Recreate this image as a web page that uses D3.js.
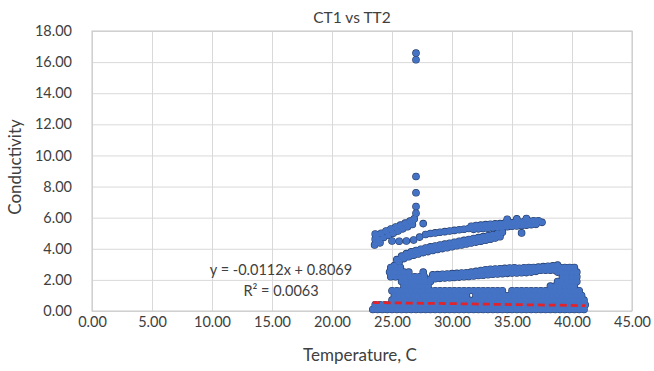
<!DOCTYPE html>
<html>
<head>
<meta charset="utf-8">
<script src="https://cdn.jsdelivr.net/npm/d3@7/dist/d3.min.js"></script>
<style>
  body { margin: 0; background: #fff; }
  text { font-family: Lato, "Open Sans", sans-serif; fill: #404040; }
</style>
</head>
<body>
<svg id="chart" width="654" height="371"></svg>
<script>
// axis ticks
const xTicks = [0, 5, 10, 15, 20, 25, 30, 35, 40, 45];
const yTicks = [0, 2, 4, 6, 8, 10, 12, 14, 16, 18];

// linear trendline from the chart
const trendSlope = -0.0112;
const trendIntercept = 0.8069;
const trendRange = [23.4, 41.1];

// [temperature, conductivity] readings, grouped by the visible clusters
const outliers = [[27.0, 16.58], [27.0, 16.15], [27.0, 8.65], [27.0, 7.6], [27.0, 6.72], [27.0, 6.28], [27.6, 5.62], [35.8, 5.02]];

const upperLeftBand = [
  [23.55, 4.25], [23.6, 4.62], [24.0, 4.38], [23.6, 4.95],
  [23.75, 4.4], [23.9, 4.6], [24.3, 4.73], [24.7, 4.87], [25.1, 5.0], [25.5, 5.14], [25.9, 5.28], [26.3, 5.42], [26.7, 5.56],
  [23.7, 4.88], [24.1, 5.0], [24.5, 5.14], [24.9, 5.27], [25.3, 5.4], [25.7, 5.52], [26.1, 5.65], [26.5, 5.78], [26.85, 5.92]
];

const dottedRow = [[25.0, 4.5], [25.6, 4.48], [26.2, 4.5], [26.8, 4.56], [27.3, 4.75]];

const upperBand = [
  [27.8, 4.92], [28.2, 4.98], [28.6, 5.02], [29.0, 5.06], [29.4, 5.1], [29.8, 5.14], [30.2, 5.18], [30.6, 5.22], [31.0, 5.26], [31.4, 5.3],
  [31.8, 5.25], [32.2, 5.28], [32.6, 5.3], [33.0, 5.32], [33.4, 5.35], [33.8, 5.37], [34.2, 5.4], [34.6, 5.42], [35.0, 5.45], [35.4, 5.47], [35.8, 5.5], [36.2, 5.52], [36.6, 5.55], [37.0, 5.57],
  [31.6, 5.45], [32.0, 5.5], [32.4, 5.52], [32.8, 5.55], [33.2, 5.58], [33.6, 5.6], [34.0, 5.62], [34.4, 5.65], [34.8, 5.68], [35.2, 5.7], [35.6, 5.72], [36.0, 5.75], [36.4, 5.78], [36.8, 5.8], [37.2, 5.8], [37.5, 5.7],
  [34.6, 5.9], [35.4, 5.92], [36.2, 5.95]
];

const diagonalBand = [
  [25.2, 2.92], [25.6, 3.17], [26.0, 3.37], [26.4, 3.49], [26.8, 3.59], [27.2, 3.67], [27.6, 3.75], [28.0, 3.82], [28.4, 3.89], [28.8, 3.95], [29.2, 4.01], [29.6, 4.07],
  [30.0, 4.13], [30.4, 4.19], [30.8, 4.25], [31.2, 4.31], [31.6, 4.37], [32.0, 4.43], [32.4, 4.49], [32.8, 4.55], [33.2, 4.61], [33.6, 4.69], [34.0, 4.77],
  [25.4, 3.3], [25.8, 3.53], [26.2, 3.69], [26.6, 3.8], [27.0, 3.89], [27.4, 3.97], [27.8, 4.05], [28.2, 4.12], [28.6, 4.18], [29.0, 4.24], [29.4, 4.3], [29.8, 4.36],
  [30.2, 4.42], [30.6, 4.48], [31.0, 4.54], [31.4, 4.6], [31.8, 4.66], [32.2, 4.72], [32.6, 4.78], [33.0, 4.84], [33.4, 4.91], [33.8, 4.99], [34.2, 5.07]
];

const middleBand = [
  [28.2, 2.05], [28.6, 2.07], [29.0, 2.1], [29.4, 2.12], [29.8, 2.14], [30.2, 2.16], [30.6, 2.18], [31.0, 2.2], [31.4, 2.22], [31.8, 2.25], [32.2, 2.28], [32.6, 2.3], [33.0, 2.33],
  [33.4, 2.36], [33.8, 2.38], [34.2, 2.4], [34.6, 2.42], [35.0, 2.44], [35.4, 2.45], [35.8, 2.46], [36.2, 2.47], [36.6, 2.5], [37.0, 2.55], [37.4, 2.62], [37.8, 2.62], [38.2, 2.62], [38.6, 2.62],
  [28.4, 2.32], [28.8, 2.34], [29.2, 2.36], [29.6, 2.38], [30.0, 2.4], [30.4, 2.42], [30.8, 2.44], [31.2, 2.46], [31.6, 2.5], [32.0, 2.55], [32.4, 2.6], [32.8, 2.65], [33.2, 2.68],
  [33.6, 2.7], [34.0, 2.72], [34.4, 2.74], [34.8, 2.76], [35.2, 2.78], [35.6, 2.75], [36.0, 2.78], [36.4, 2.8], [36.8, 2.8], [37.2, 2.82], [37.6, 2.85], [38.0, 2.88], [38.4, 2.9], [38.8, 2.95]
];

// dense lower mass: one conductivity level per row, temperatures along it
const baseRowY = [0.1, 0.4, 0.7, 1.0, 1.3, 1.6, 1.9, 2.2, 2.5, 2.8];
const baseRowX = [
  [23.4, 23.8, 24.2, 24.6, 25.0, 25.4, 25.8, 26.2, 26.6, 27.0, 27.4, 27.8, 28.2, 28.6, 29.0, 29.4, 29.8, 30.2, 30.6, 31.0, 31.4, 31.8, 32.2, 32.6, 33.0, 33.4, 33.8, 34.2, 34.6, 35.0, 35.4, 35.8, 36.2, 36.6, 37.0, 37.4, 37.8, 38.2, 38.6, 39.0, 39.4, 39.8, 40.2, 40.6, 41.0],
  [23.6, 24.0, 24.4, 24.8, 25.2, 25.6, 26.0, 26.4, 26.8, 27.2, 27.6, 28.0, 28.4, 28.8, 29.2, 29.6, 30.0, 30.4, 30.8, 31.2, 31.6, 32.0, 32.4, 32.8, 33.2, 33.6, 34.0, 34.4, 34.8, 35.2, 35.6, 36.0, 36.4, 36.8, 37.2, 37.6, 38.0, 38.4, 38.8, 39.2, 39.6, 40.0, 40.4, 40.8, 41.1],
  [25.0, 25.4, 25.8, 26.2, 26.6, 27.0, 27.4, 27.8, 28.2, 28.6, 29.0, 29.4, 29.8, 30.2, 30.6, 31.0, 31.4, 31.8, 32.2, 32.6, 33.0, 33.4, 33.8, 34.2, 34.6, 35.0, 35.4, 35.8, 36.2, 36.6, 37.0, 37.4, 37.8, 38.2, 38.6, 39.0, 39.4, 39.8, 40.2, 40.6, 41.0],
  [25.2, 25.6, 26.0, 26.4, 26.8, 27.2, 27.6, 28.0, 28.4, 28.8, 29.2, 29.6, 30.0, 30.4, 30.8, 31.2, 32.0, 32.4, 32.8, 33.2, 33.6, 34.0, 34.4, 34.8, 35.2, 35.6, 36.0, 36.4, 36.8, 37.2, 37.6, 38.0, 38.4, 38.8, 39.2, 39.6, 40.0, 40.4, 40.8],
  [25.0, 25.4, 25.8, 26.2, 26.6, 27.0, 27.4, 27.8, 28.2, 28.6, 29.0, 29.4, 29.8, 30.2, 30.6, 31.0, 31.4, 31.8, 32.2, 32.6, 33.0, 33.4, 33.8, 34.2, 35.0, 35.4, 35.8, 36.2, 36.6, 37.0, 37.4, 37.8, 38.2, 38.6, 39.0, 39.4, 39.8, 40.2, 40.6],
  [26.0, 26.4, 26.8, 27.2, 27.6, 28.0, 38.2, 38.6, 39.0, 39.4, 39.8, 40.2],
  [25.8, 26.2, 26.6, 27.0, 27.4, 27.8, 28.2, 38.8, 39.2, 39.6, 40.0, 40.4],
  [24.9, 25.3, 25.7, 26.1, 26.5, 26.9, 27.3, 27.7, 39.2, 39.6, 40.0, 40.4],
  [24.8, 25.2, 25.6, 26.0, 26.4, 27.6, 38.8, 39.2, 39.6, 40.0, 40.4],
  [24.9, 25.3, 25.7, 39.0, 39.4, 39.8, 40.2]
];

const W = 654, H = 371;
const plot = { left: 92, right: 632, top: 31, bottom: 311 };

const svg = d3.select("#chart");
svg.append("rect").attr("width", W).attr("height", H).attr("fill", "#fff");

const x = d3.scaleLinear().domain([0, 45]).range([plot.left, plot.right]);
const y = d3.scaleLinear().domain([0, 18]).range([plot.bottom, plot.top]);

// gridlines
svg.append("g")
  .attr("transform", `translate(0,${plot.bottom})`)
  .call(d3.axisBottom(x).tickValues(xTicks).tickSize(-(plot.bottom - plot.top)).tickFormat(""))
  .call(g => g.select(".domain").remove())
  .call(g => g.selectAll("line").attr("stroke", "#d9d9d9"));
svg.append("g")
  .attr("transform", `translate(${plot.left},0)`)
  .call(d3.axisLeft(y).tickValues(yTicks).tickSize(-(plot.right - plot.left)).tickFormat(""))
  .call(g => g.select(".domain").remove())
  .call(g => g.selectAll("line").attr("stroke", "#d9d9d9"));

svg.append("rect")
  .attr("x", plot.left).attr("y", plot.top)
  .attr("width", plot.right - plot.left).attr("height", plot.bottom - plot.top)
  .attr("fill", "none").attr("stroke", "#c8c8c8");

// tick labels
svg.append("g")
  .attr("transform", `translate(0,${plot.bottom})`)
  .call(d3.axisBottom(x).tickValues(xTicks).tickSize(0).tickPadding(6).tickFormat(d3.format(".2f")))
  .call(g => g.select(".domain").remove())
  .call(g => g.selectAll("text").attr("font-size", 14.5).attr("fill", "#404040").attr("font-family", "Lato, sans-serif"));
svg.append("g")
  .attr("transform", `translate(${plot.left},0)`)
  .call(d3.axisLeft(y).tickValues(yTicks).tickSize(0).tickPadding(20).tickFormat(d3.format(".2f")))
  .call(g => g.select(".domain").remove())
  .call(g => g.selectAll("text").attr("font-size", 14.5).attr("fill", "#404040").attr("font-family", "Lato, sans-serif"));

// titles
svg.append("text").attr("x", 352).attr("y", 23).attr("text-anchor", "middle")
  .attr("font-size", 15.5).text("CT1 vs TT2");
svg.append("text").attr("x", 360).attr("y", 361).attr("text-anchor", "middle")
  .attr("font-size", 17).text("Temperature, C");
svg.append("text").attr("transform", "translate(21,167) rotate(-90)").attr("text-anchor", "middle")
  .attr("font-size", 17).text("Conductivity");

// points: dark rim layer, then a blue layer that hides rims inside dense clusters
const baseRows = baseRowY.flatMap((cv, i) => baseRowX[i].map(t => [t, cv]));
const points = [].concat(baseRows, middleBand, diagonalBand, upperBand, dottedRow, upperLeftBand, outliers);

const dots = svg.append("g");
dots.selectAll("circle.edge").data(points).enter().append("circle")
  .attr("class", "edge")
  .attr("cx", d => x(d[0])).attr("cy", d => y(d[1])).attr("r", 3.1)
  .attr("fill", "#203864").attr("stroke", "#203864").attr("stroke-width", 1.4);
dots.selectAll("circle.core").data(points).enter().append("circle")
  .attr("class", "core")
  .attr("cx", d => x(d[0])).attr("cy", d => y(d[1])).attr("r", 3.2)
  .attr("fill", "#4472c4");

// trendline
svg.append("path")
  .datum(trendRange.map(t => [t, trendSlope * t + trendIntercept]))
  .attr("d", d3.line().x(d => x(d[0])).y(d => y(d[1])))
  .attr("fill", "none").attr("stroke", "#e3232c").attr("stroke-width", 2.75)
  .attr("stroke-dasharray", "7,4");

svg.append("text").attr("x", 281).attr("y", 275).attr("text-anchor", "middle")
  .attr("font-size", 14.5).text("y = -0.0112x + 0.8069");
svg.append("text").attr("x", 281).attr("y", 296).attr("text-anchor", "middle")
  .attr("font-size", 14.5).text("R² = 0.0063");
</script>
</body>
</html>
